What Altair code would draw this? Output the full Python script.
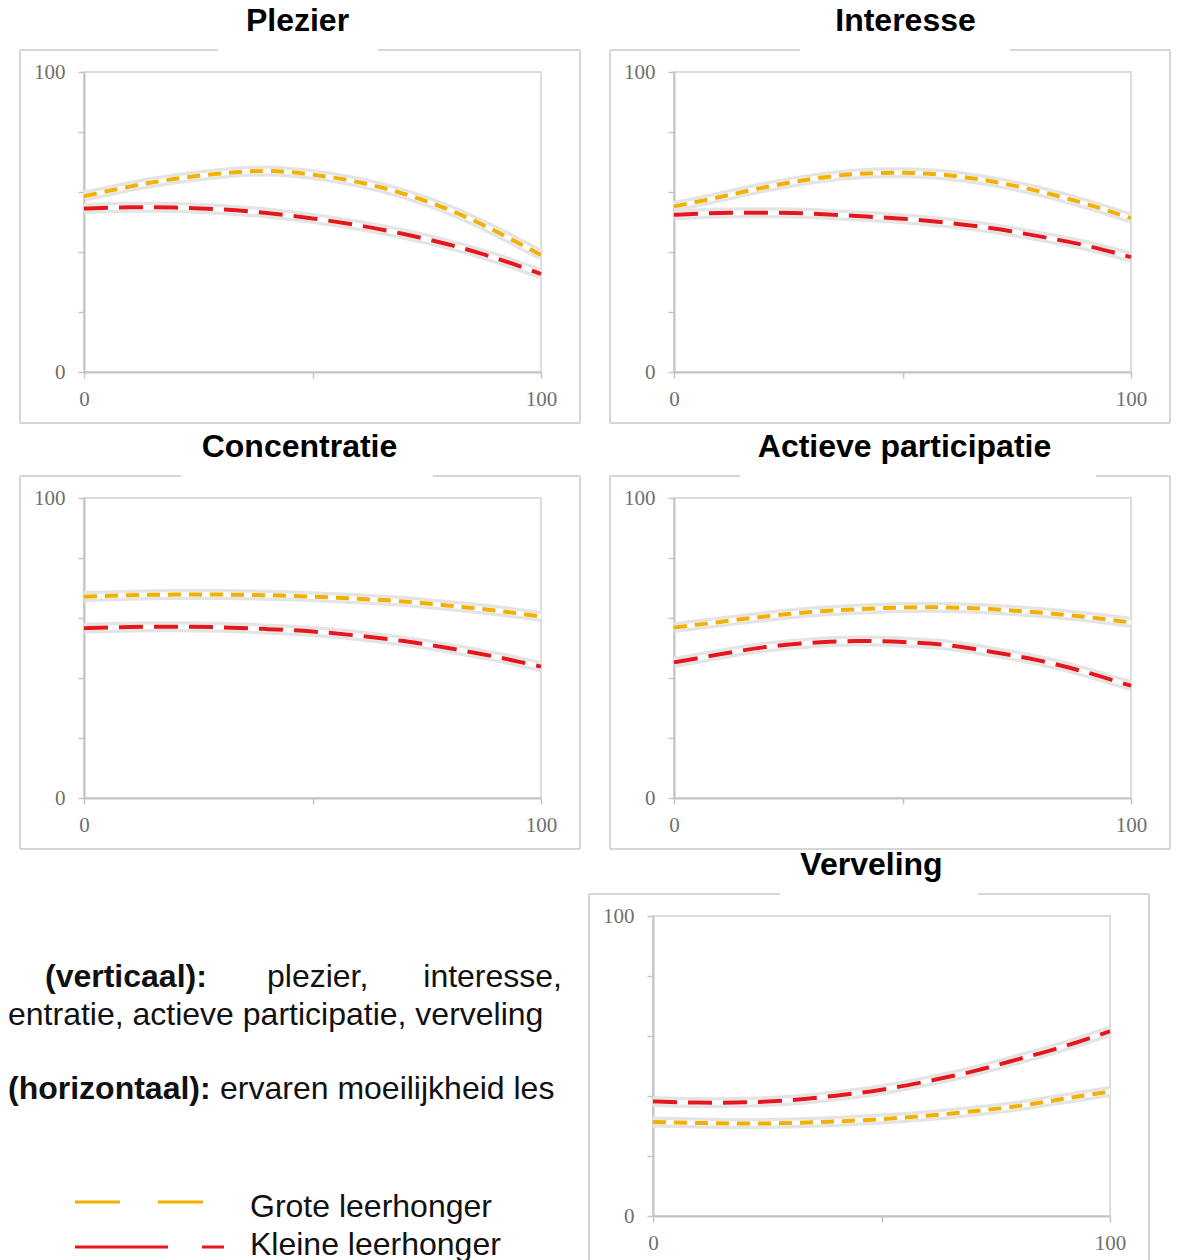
import altair as alt
import pandas as pd

# ---------------- data ----------------
X = [0, 10, 20, 30, 40, 50, 60, 70, 80, 90, 100]
GROUPS = ["Grote leerhonger", "Kleine leerhonger"]
TITLES = ["Plezier", "Interesse", "Concentratie", "Actieve participatie", "Verveling"]

PLEZIER_GROOT = [58.6, 61.8, 64.4, 66.2, 67.0, 65.8, 63.3, 59.4, 54.0, 47.0, 39.0]
PLEZIER_KLEIN = [54.5, 54.9, 54.8, 54.2, 53.0, 51.2, 48.9, 46.0, 42.4, 38.0, 32.7]
INTERESSE_GROOT = [55.2, 58.3, 61.6, 64.3, 66.0, 66.4, 65.6, 63.4, 60.2, 56.1, 51.3]
INTERESSE_KLEIN = [52.4, 53.0, 53.1, 52.8, 52.0, 51.1, 49.7, 47.8, 45.2, 42.2, 38.3]
CONC_GROOT = [67.1, 67.6, 67.8, 67.8, 67.6, 67.1, 66.4, 65.5, 64.1, 62.5, 60.5]
CONC_KLEIN = [56.6, 57.0, 57.1, 56.9, 56.3, 55.5, 54.1, 52.3, 49.9, 47.1, 43.8]
ACT_GROOT = [56.8, 58.7, 60.5, 62.0, 62.9, 63.5, 63.5, 62.9, 61.8, 60.4, 58.5]
ACT_KLEIN = [45.2, 47.9, 50.3, 51.7, 52.3, 52.0, 50.9, 48.6, 45.8, 42.0, 37.4]
VERV_GROOT = [31.3, 31.0, 30.8, 31.0, 31.5, 32.3, 33.4, 34.9, 36.7, 39.1, 41.5]
VERV_KLEIN = [38.2, 37.8, 37.9, 38.6, 40.1, 42.1, 44.9, 48.2, 52.3, 56.6, 61.6]

Y_TICKS = [0, 20, 40, 60, 80, 100]
X_TICKS = [0, 50, 100]

TEXT_VERT_BOLD = "(verticaal):"
TEXT_VERT_1 = "plezier,"
TEXT_VERT_2 = "interesse,"
TEXT_VERT_LINE2 = "entratie, actieve participatie, verveling"
TEXT_HOR_BOLD = "(horizontaal):"
TEXT_HOR = "ervaren moeilijkheid les"

# ---------------- styling ----------------
YELLOW = "#F2B000"
RED = "#E5161C"
FRAME = "#d6d6d6"
AXISC = "#c4c4c4"
W, H = 457, 300
SANS = "Liberation Sans"
SERIF = "Liberation Serif"

one = alt.Data(values=[{"k": 0}])


def frame_layers(gap_l, gap_r, pad_bottom=None):
    L, R, T, B = -64, 496, -22, 351
    segs = [
        dict(x=alt.value(L), x2=alt.value(gap_l), y=alt.value(T)),
        dict(x=alt.value(gap_r), x2=alt.value(R), y=alt.value(T)),
        dict(x=alt.value(L), y=alt.value(T), y2=alt.value(B)),
        dict(x=alt.value(R), y=alt.value(T), y2=alt.value(B)),
        dict(x=alt.value(L), x2=alt.value(R), y=alt.value(B)),
    ]
    out = [alt.Chart(one).mark_rule(color=FRAME, strokeWidth=2).encode(**s) for s in segs]
    # invisible (white on white) spacers that only even out the layout bounds
    out.append(alt.Chart(one).mark_rule(color="white", strokeWidth=1).encode(
        x=alt.value(-76), x2=alt.value(-72), y=alt.value(0)))
    if pad_bottom is not None:
        out.append(alt.Chart(one).mark_rule(color="white", strokeWidth=1).encode(
            x=alt.value(0), x2=alt.value(4), y=alt.value(pad_bottom)))
    return out


def panel(title, groot, klein, title_dx, gap_l, gap_r, pad_bottom=None):
    df = pd.DataFrame({
        "x": X + X,
        "y": groot + klein,
        "groep": [GROUPS[0]] * len(X) + [GROUPS[1]] * len(X),
    })
    xenc = alt.X(
        "x:Q",
        scale=alt.Scale(domain=[0, 100], nice=False, zero=False),
        axis=alt.Axis(
            values=X_TICKS, labelExpr="datum.value == 50 ? '' : datum.label",
            title=None, grid=False, labelFont=SERIF, labelFontSize=21,
            labelColor="#6f6f6f", labelFlush=False, labelOverlap=False,
            domainColor=AXISC, domainWidth=2, tickColor=AXISC, tickWidth=1.5,
            tickSize=6, labelPadding=10,
        ),
    )
    yenc = alt.Y(
        "y:Q",
        scale=alt.Scale(domain=[0, 100], nice=False),
        axis=alt.Axis(
            values=Y_TICKS,
            labelExpr="(datum.value == 0 || datum.value == 100) ? datum.label : ''",
            title=None, grid=False, labelFont=SERIF, labelFontSize=21,
            labelColor="#6f6f6f", labelFlush=False, labelOverlap=False,
            domainColor=AXISC, domainWidth=2, tickColor=AXISC, tickWidth=1.5,
            tickSize=6, labelPadding=13,
        ),
    )
    base = alt.Chart(df)
    halo = base.mark_line(color="#e4e4e4", strokeWidth=11, interpolate="natural").encode(
        x=xenc, y=yenc, detail="groep:N")
    white = base.mark_line(color="white", strokeWidth=4.5, interpolate="natural").encode(
        x="x:Q", y="y:Q", detail="groep:N")
    dashed = base.mark_line(strokeWidth=4, interpolate="natural").encode(
        x="x:Q", y="y:Q",
        color=alt.Color("groep:N", scale=alt.Scale(domain=GROUPS, range=[YELLOW, RED]), legend=None),
        strokeDash=alt.StrokeDash("groep:N", scale=alt.Scale(domain=GROUPS, range=[[13, 8], [24, 11]]), legend=None),
    )
    return alt.layer(*frame_layers(gap_l, gap_r, pad_bottom), halo, white, dashed).properties(
        width=W, height=H,
        title=alt.TitleParams(
            text=title, font=SANS, fontSize=32, fontWeight="bold", color="black",
            anchor="middle", frame="group", dx=title_dx, offset=11,
        ),
        view=alt.ViewBackground(stroke="#dcdcdc", strokeWidth=2),
    )


def text_panel():
    def txt(s, x, y, bold=False, align="left"):
        return alt.Chart(one).mark_text(
            font=SANS, fontSize=32, fontWeight="bold" if bold else "normal",
            color="#111111", align=align, baseline="middle",
        ).encode(x=alt.value(x), y=alt.value(y), text=alt.value(s))

    layers = [
        txt(TEXT_VERT_BOLD, -39, 61, bold=True),
        txt(TEXT_VERT_1, 183, 61),
        txt(TEXT_VERT_2, 478, 61, align="right"),
        txt(TEXT_VERT_LINE2, -76, 99),
        txt(TEXT_HOR_BOLD, -76, 173, bold=True),
        txt(TEXT_HOR, 136, 173),
        txt(GROUPS[0], 166, 291),
        txt(GROUPS[1], 166, 329),
        alt.Chart(one).mark_rule(color=YELLOW, strokeWidth=3, strokeDash=[45, 38]).encode(
            x=alt.value(-9), x2=alt.value(121), y=alt.value(286)),
        alt.Chart(one).mark_rule(color=RED, strokeWidth=3, strokeDash=[93, 34]).encode(
            x=alt.value(-9), x2=alt.value(140), y=alt.value(331)),
    ]
    return alt.layer(*layers).properties(
        width=436, height=H, view=alt.ViewBackground(stroke=None))


p1 = panel(TITLES[0], PLEZIER_GROOT, PLEZIER_KLEIN, -15, 134, 294, pad_bottom=359)
p2 = panel(TITLES[1], INTERESSE_GROOT, INTERESSE_KLEIN, 3, 126, 336)
p3 = panel(TITLES[2], CONC_GROOT, CONC_KLEIN, -13, 97, 349)
p4 = panel(TITLES[3], ACT_GROOT, ACT_KLEIN, 2, 66, 422)
p5 = panel(TITLES[4], VERV_GROOT, VERV_KLEIN, -10, 127, 325)
tp = text_panel()

row1 = alt.hconcat(p1, p2, spacing=133, bounds="flush")
row2 = alt.hconcat(p3, p4, spacing=133, bounds="flush")
row3 = alt.hconcat(tp, p5, spacing=133, bounds="flush")

chart = alt.vconcat(row1, row2, row3, spacing=-3).properties(
    padding={"left": -2, "top": -4, "right": 0, "bottom": 0},
    background="white",
)

chart.save("out.html", embed_options={"renderer": "svg", "actions": False})
